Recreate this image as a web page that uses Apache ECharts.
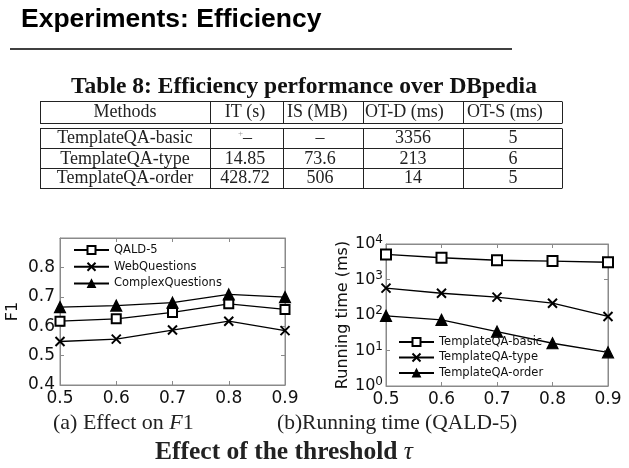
<!DOCTYPE html>
<html>
<head>
<meta charset="utf-8">
<script src="https://cdn.jsdelivr.net/npm/echarts@6/dist/echarts.min.js"></script>
<style>
html,body{margin:0;padding:0;background:#fff;}
#c{width:629px;height:468px;}
</style>
</head>
<body>
<div id="c"></div>
<script>
// ---- data ----
var slideTitle = 'Experiments: Efficiency';
var tableCaption = 'Table 8: Efficiency performance over DBpedia';
var tableHeader = ['Methods', 'IT (s)', 'IS (MB)', 'OT-D (ms)', 'OT-S (ms)'];
var tableMethods = ['TemplateQA-basic', 'TemplateQA-type', 'TemplateQA-order'];
var tableIT = ['{s|+}–', '14.85', '428.72'];
var tableIS = ['–', '73.6', '506'];
var tableOTD = ['3356', '213', '14'];
var tableOTS = ['5', '6', '5'];

var thresholds = ['0.5', '0.6', '0.7', '0.8', '0.9'];
var f1Names = ['QALD-5', 'WebQuestions', 'ComplexQuestions'];
var f1QALD = [0.617, 0.625, 0.647, 0.676, 0.657];
var f1Web = [0.548, 0.556, 0.587, 0.617, 0.585];
var f1Complex = [0.665, 0.670, 0.680, 0.708, 0.699];

var rtNames = ['TemplateQA-basic', 'TemplateQA-type', 'TemplateQA-order'];
var rtBasic = [5100, 4100, 3480, 3300, 3060];
var rtType = [570, 410, 318, 215, 91];
var rtOrder = [95, 73, 34, 16, 8.9];

var captionA = '(a) Effect on ';
var captionB = '(b)Running time (QALD-5)';
var figCaption = 'Effect of the threshold ';

// ---- layout helpers ----
var SERIF = '"Liberation Serif", "Times New Roman", serif';
var SANS = '"DejaVu Sans", sans-serif';
var colX = [40, 210, 283, 363, 463, 562];
var headerLeft = [null, null, 287, 365, 467];
var cellCenters = [125, 245, 320, 413, 513];
var rowY = [138, 159, 178];

var graphics = [];
graphics.push({type:'text', left:21, top:6, style:{text:slideTitle, font:'bold 26.5px "Liberation Sans", Arial, sans-serif', fill:'#000'}});
graphics.push({type:'line', shape:{x1:10,y1:49,x2:512,y2:49}, style:{stroke:'#000', lineWidth:1.5}});
graphics.push({type:'text', x:304, y:87, style:{text:tableCaption, font:'bold 23.5px ' + SERIF, fill:'#111', align:'center', verticalAlign:'middle'}});

function hline(y){ graphics.push({type:'line', shape:{x1:colX[0], y1:y, x2:colX[5], y2:y}, style:{stroke:'#222', lineWidth:1}}); }
[101.5, 123.5, 128.5, 148.5, 168.5, 188.5].forEach(hline);
colX.forEach(function(x){
  graphics.push({type:'line', shape:{x1:x+0.5, y1:101.5, x2:x+0.5, y2:123.5}, style:{stroke:'#222', lineWidth:1}});
  graphics.push({type:'line', shape:{x1:x+0.5, y1:128.5, x2:x+0.5, y2:188.5}, style:{stroke:'#222', lineWidth:1}});
});
tableHeader.forEach(function(h, i){
  if (headerLeft[i] === null) {
    graphics.push({type:'text', x:cellCenters[i], y:112, style:{text:h, font:'18px ' + SERIF, fill:'#222', align:'center', verticalAlign:'middle'}});
  } else {
    graphics.push({type:'text', x:headerLeft[i], y:112, style:{text:h, font:'18px ' + SERIF, fill:'#222', align:'left', verticalAlign:'middle'}});
  }
});
var cols = [tableMethods, tableIT, tableIS, tableOTD, tableOTS];
cols.forEach(function(col, ci){
  col.forEach(function(v, ri){
    graphics.push({type:'text', x:cellCenters[ci], y:rowY[ri], style:{text:v, font:'18px ' + SERIF, fill:'#222', align:'center', verticalAlign:'middle',
      rich:{s:{fontSize:9, fill:'#999', verticalAlign:'top', fontFamily:SERIF}}}});
  });
});
graphics.push({type:'text', x:53, y:423, style:{text:captionA + '{i|F}1', font:'22px ' + SERIF, fill:'#222', align:'left', verticalAlign:'middle',
  rich:{i:{fontStyle:'italic', fontSize:22, fontFamily:SERIF, fill:'#222'}}}});
graphics.push({type:'text', x:277, y:423, style:{text:captionB, font:'21.5px ' + SERIF, fill:'#222', align:'left', verticalAlign:'middle'}});
graphics.push({type:'text', x:284, y:452, style:{text:figCaption + '{i|τ}', font:'bold 25.5px ' + SERIF, fill:'#222', align:'center', verticalAlign:'middle',
  rich:{i:{fontStyle:'italic', fontSize:25.5, fontFamily:SERIF, fill:'#222'}}}});

var frame = '#8a8a8a';
var crossPath = 'emptyPath://M0,0L10,10M10,0L0,10';
function mkSeries(name, data, symbol, size, xi, yi){
  return {name:name, type:'line', data:data, xAxisIndex:xi, yAxisIndex:yi, symbol:symbol, symbolSize:size,
    lineStyle:{color:'#000', width:1.3}, itemStyle:{color: '#000', borderColor:'#000', borderWidth:1.2},
    animation:false, z:3};
}
function xAx(gi, pos, show){
  return {type:'category', data:thresholds, boundaryGap:false, gridIndex:gi, position:pos,
    axisLine:{lineStyle:{color:frame}}, axisTick:{inside:true, length:4, lineStyle:{color:frame}},
    axisLabel:{show:show, color:'#111', fontSize:17, fontFamily:SANS, margin:5}, splitLine:{show:false}};
}
var option = {
  animation:false,
  graphic: graphics,
  grid:[{left:60, top:238, width:225, height:147, show:true, borderColor:frame, borderWidth:1},
        {left:386, top:244, width:222, height:142, show:true, borderColor:frame, borderWidth:1}],
  xAxis:[xAx(0,'bottom',true), xAx(0,'top',false), xAx(1,'bottom',true), xAx(1,'top',false)],
  yAxis:[
    {type:'value', gridIndex:0, min:0.4, max:0.9, interval:0.1, name:'F1', nameLocation:'middle', nameGap:39,
     nameTextStyle:{fontSize:16, fontFamily:SANS, color:'#111'},
     axisLine:{show:true, lineStyle:{color:frame}}, axisTick:{show:true, inside:true, length:4, lineStyle:{color:frame}},
     axisLabel:{color:'#111', fontSize:17, fontFamily:SANS, margin:5, showMaxLabel:false, formatter:function(v){return v.toFixed(1);}}, splitLine:{show:false}},
    {type:'value', gridIndex:0, min:0.4, max:0.9, interval:0.1, position:'right',
     axisLine:{show:true, lineStyle:{color:frame}}, axisTick:{show:true, inside:true, length:4, lineStyle:{color:frame}},
     axisLabel:{show:false}, splitLine:{show:false}},
    {type:'log', logBase:10, gridIndex:1, min:1, max:10000, name:'Running time (ms)', nameLocation:'middle', nameGap:26,
     nameTextStyle:{fontSize:16, fontFamily:SANS, color:'#111'},
     axisLine:{show:true, lineStyle:{color:frame}}, axisTick:{show:true, inside:true, length:4, lineStyle:{color:frame}},
     axisLabel:{color:'#111', fontSize:16, fontFamily:SANS, margin:3,
       formatter:function(v){ return '10{s|' + Math.round(Math.log10(v)) + '}'; },
       rich:{s:{fontSize:12, fontFamily:SANS, color:'#111', verticalAlign:'top', padding:[0,0,8,0]}}},
     splitLine:{show:false}},
    {type:'log', logBase:10, gridIndex:1, min:1, max:10000, position:'right',
     axisLine:{show:true, lineStyle:{color:frame}}, axisTick:{show:true, inside:true, length:4, lineStyle:{color:frame}},
     axisLabel:{show:false}, splitLine:{show:false}}
  ],
  legend:[
    {data:f1Names, orient:'vertical', left:73, top:244, padding:0, itemWidth:35, itemHeight:10, itemGap:4.7,
     itemStyle:{borderWidth:1.1}, textStyle:{fontSize:11.5, lineHeight:12, fontFamily:SANS, color:'#111'}},
    {data:rtNames, orient:'vertical', left:398, top:336, padding:0, itemWidth:35, itemHeight:10, itemGap:3.5,
     itemStyle:{borderWidth:1.1}, textStyle:{fontSize:11.5, lineHeight:12, fontFamily:SANS, color:'#111'}}
  ],
  series:[
    mkSeries(f1Names[0], f1QALD, 'emptyRect', 9, 0, 0),
    mkSeries(f1Names[1], f1Web, crossPath, 9, 0, 0),
    mkSeries(f1Names[2], f1Complex, 'triangle', 11, 0, 0),
    mkSeries(rtNames[0], rtBasic, 'emptyRect', 10, 2, 2),
    mkSeries(rtNames[1], rtType, crossPath, 9, 2, 2),
    mkSeries(rtNames[2], rtOrder, 'triangle', 11, 2, 2)
  ]
};
var chart = echarts.init(document.getElementById('c'), null, {renderer:'canvas'});
chart.setOption(option);
</script>
</body>
</html>
